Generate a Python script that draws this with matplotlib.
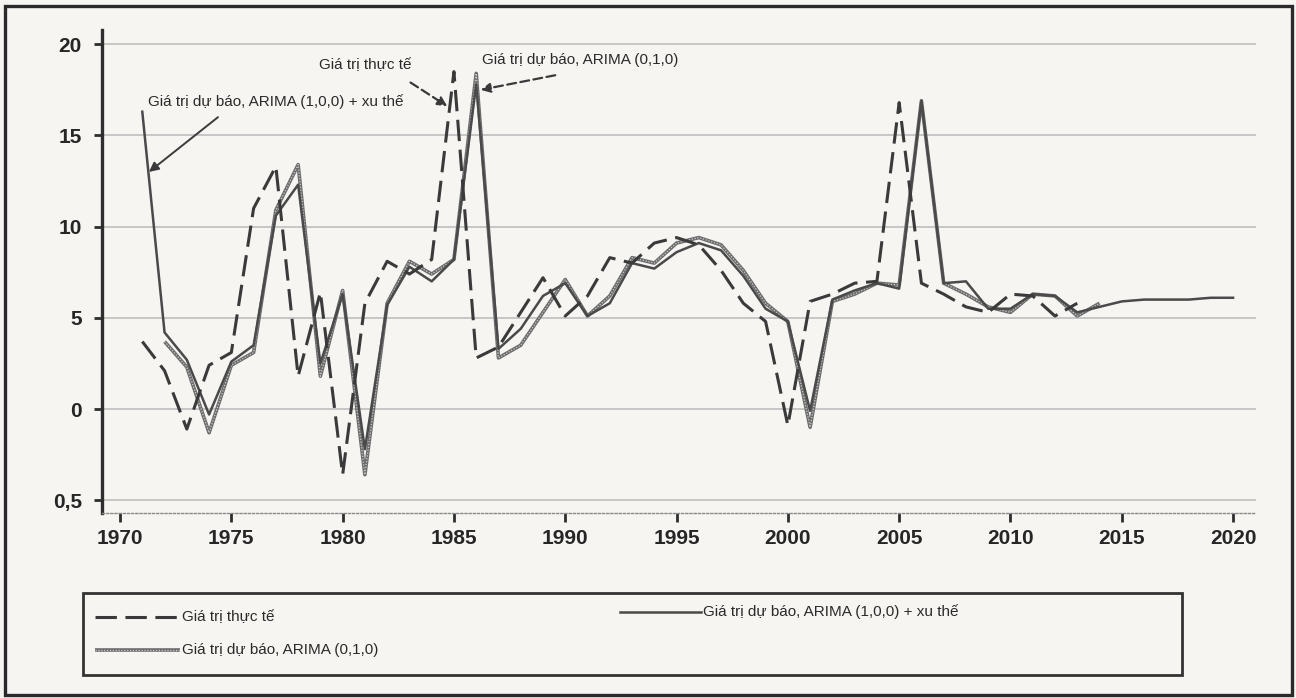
import matplotlib
matplotlib.use("Agg")
import matplotlib.pyplot as plt
from matplotlib.lines import Line2D
from matplotlib.patches import Rectangle

# ---- data -------------------------------------------------------------
years_actual = list(range(1971, 2014))
actual = [3.7, 2.1, -1.1, 2.4, 3.1, 11.0, 13.3, 1.8, 6.4, -3.6,
          5.8, 8.1, 7.4, 8.2, 18.5, 2.8, 3.4, 5.3, 7.2, 5.1,
          6.2, 8.3, 8.0, 9.1, 9.4, 9.0, 7.6, 5.8, 4.8, -0.9,
          5.9, 6.3, 6.9, 7.0, 16.8, 6.9, 6.3, 5.6, 5.3, 6.3,
          6.2, 5.1, 5.8]

years_arima010 = list(range(1972, 2015))
arima010 = [3.7, 2.3, -1.3, 2.4, 3.1, 10.9, 13.4, 1.8, 6.5, -3.6,
            5.8, 8.1, 7.4, 8.2, 18.4, 2.8, 3.5, 5.3, 7.1, 5.1,
            6.2, 8.3, 8.0, 9.1, 9.4, 9.0, 7.6, 5.8, 4.8, -1.0,
            5.9, 6.3, 6.9, 6.8, 16.9, 6.9, 6.3, 5.6, 5.3, 6.3,
            6.2, 5.1, 5.8]

years_arima100 = list(range(1971, 2021))
arima100 = [16.3, 4.2, 2.7, -0.3, 2.6, 3.5, 10.6, 12.3, 2.5, 6.3,
            -2.2, 5.7, 7.8, 7.0, 8.2, 17.8, 3.3, 4.4, 6.2, 6.9,
            5.1, 5.8, 8.0, 7.7, 8.6, 9.1, 8.7, 7.3, 5.5, 4.8,
            -0.1, 6.0, 6.5, 6.9, 6.6, 16.9, 6.9, 7.0, 5.5, 5.5,
            6.3, 6.2, 5.3, 5.6, 5.9, 6.0, 6.0, 6.0, 6.1, 6.1]

y_ticks = [20, 15, 10, 5, 0, -5]
y_tick_labels = ["20", "15", "10", "5", "0", "0,5"]
x_ticks = [1970, 1975, 1980, 1985, 1990, 1995, 2000, 2005, 2010, 2015, 2020]

label_actual = "Giá trị thực tế"
label_010 = "Giá trị dự báo, ARIMA (0,1,0)"
label_100 = "Giá trị dự báo, ARIMA (1,0,0) + xu thế"

# ---- styles -----------------------------------------------------------
NARROW = ["Liberation Sans Narrow", "Liberation Sans", "DejaVu Sans"]
REGULAR = ["Liberation Sans", "DejaVu Sans"]
BG = "#f6f5f2"
INK = "#333333"

style_actual = dict(color="#3a3a3a", lw=2.2, dashes=(7.0, 2.8),
                    solid_capstyle="butt", dash_capstyle="butt")
style_010_base = dict(color="#6c6c6c", lw=2.6, solid_capstyle="butt")
style_010_dots = dict(color="#e4e4e4", lw=0.9, dashes=(1.0, 1.3), alpha=0.8)
style_100 = dict(color="#4a4a4a", lw=1.8)

plt.rcParams["font.family"] = REGULAR

fig = plt.figure(figsize=(12.96, 6.98), dpi=100, facecolor=BG)
W, H = 1296.0, 698.0

ax = fig.add_axes([102 / W, 1 - 513 / H, (1256 - 102) / W, (513 - 30) / H])
ax.set_facecolor(BG)
ax.set_xlim(1969.19, 2021.03)
ax.set_ylim(-5.70, 20.78)

# horizontal reference lines
for yv in y_ticks:
    ax.axhline(yv, color="#c6c6c6", lw=1.4, zorder=0)

# series
ax.plot(years_arima010, arima010, zorder=3, **style_010_base)
ax.plot(years_arima010, arima010, zorder=3.1, **style_010_dots)
ax.plot(years_arima100, arima100, zorder=4, **style_100)
ax.plot(years_actual, actual, zorder=5, **style_actual)

# axes decoration
for side in ("top", "right"):
    ax.spines[side].set_visible(False)
ax.spines["left"].set_color("#2e2e2e")
ax.spines["left"].set_linewidth(2.4)
ax.spines["bottom"].set_color("#8a8a8a")
ax.spines["bottom"].set_linewidth(1.0)
ax.spines["bottom"].set_linestyle((0, (1.5, 1.5)))

ax.set_yticks(y_ticks)
ax.set_yticklabels(y_tick_labels)
ax.set_xticks(x_ticks)
ax.set_xticklabels([str(x) for x in x_ticks])
ax.tick_params(axis="y", direction="out", length=5.5, width=2.0,
               color="#2e2e2e", pad=9)
ax.tick_params(axis="x", direction="out", length=6.5, width=2.0,
               color="#2e2e2e", pad=5)
for lab in ax.get_xticklabels() + ax.get_yticklabels():
    lab.set_fontfamily(NARROW)
    lab.set_fontweight("bold")
    lab.set_fontsize(15)
    lab.set_color("#262626")

# callouts
ax.text(1971.26, 16.83, label_100, fontsize=11, family=REGULAR,
        color="#2a2a2a", va="center", ha="left", zorder=6)
ax.annotate("", xy=(1971.3, 13.0), xytext=(1974.4, 16.0),
            arrowprops=dict(arrowstyle="-|>", color="#3a3a3a", lw=1.4,
                            mutation_scale=14, shrinkA=0, shrinkB=0),
            zorder=6)

ax.text(1978.94, 18.86, label_actual, fontsize=11, family=REGULAR,
        color="#2a2a2a", va="center", ha="left", zorder=6)
ax.annotate("", xy=(1984.7, 16.6), xytext=(1983.05, 17.9),
            arrowprops=dict(arrowstyle="-|>", color="#3a3a3a", lw=1.6,
                            linestyle=(0, (4, 2)), mutation_scale=14,
                            shrinkA=0, shrinkB=0),
            zorder=6)

ax.text(1986.26, 19.13, label_010, fontsize=11, family=REGULAR,
        color="#2a2a2a", va="center", ha="left", zorder=6)
ax.annotate("", xy=(1986.2, 17.5), xytext=(1989.55, 18.3),
            arrowprops=dict(arrowstyle="-|>", color="#3a3a3a", lw=1.6,
                            linestyle=(0, (4, 2)), mutation_scale=14,
                            shrinkA=0, shrinkB=0),
            zorder=6)


# ---- legend box (figure pixel coordinates) ----------------------------
def fx(px):
    return px / W


def fy(py):
    return 1 - py / H


fig.add_artist(Rectangle((fx(83), fy(675)), fx(1182) - fx(83), fy(593) - fy(675),
                         transform=fig.transFigure, fill=False,
                         edgecolor="#333333", lw=2.0))

fig.add_artist(Line2D([fx(95), fx(179)], [fy(617), fy(617)],
                      transform=fig.transFigure, **style_actual))
fig.add_artist(Line2D([fx(95), fx(180)], [fy(650), fy(650)],
                      transform=fig.transFigure, **style_010_base))
fig.add_artist(Line2D([fx(95), fx(180)], [fy(650), fy(650)],
                      transform=fig.transFigure, **style_010_dots))
fig.add_artist(Line2D([fx(620), fx(701)], [fy(612), fy(612)],
                      transform=fig.transFigure, **style_100))

fig.text(fx(182), fy(617), label_actual, fontsize=11, family=NARROW,
         color="#2a2a2a", va="center", ha="left")
fig.text(fx(182), fy(650), label_010, fontsize=11, family=NARROW,
         color="#2a2a2a", va="center", ha="left")
fig.text(fx(703), fy(612), label_100, fontsize=11, family=NARROW,
         color="#2a2a2a", va="center", ha="left")

# outer frame
fig.add_artist(Rectangle((fx(5), fy(695)), fx(1292) - fx(5), fy(6) - fy(695),
                         transform=fig.transFigure, fill=False,
                         edgecolor="#2a2a2a", lw=2.4))

fig.savefig("out.png", dpi=100, facecolor=BG)
